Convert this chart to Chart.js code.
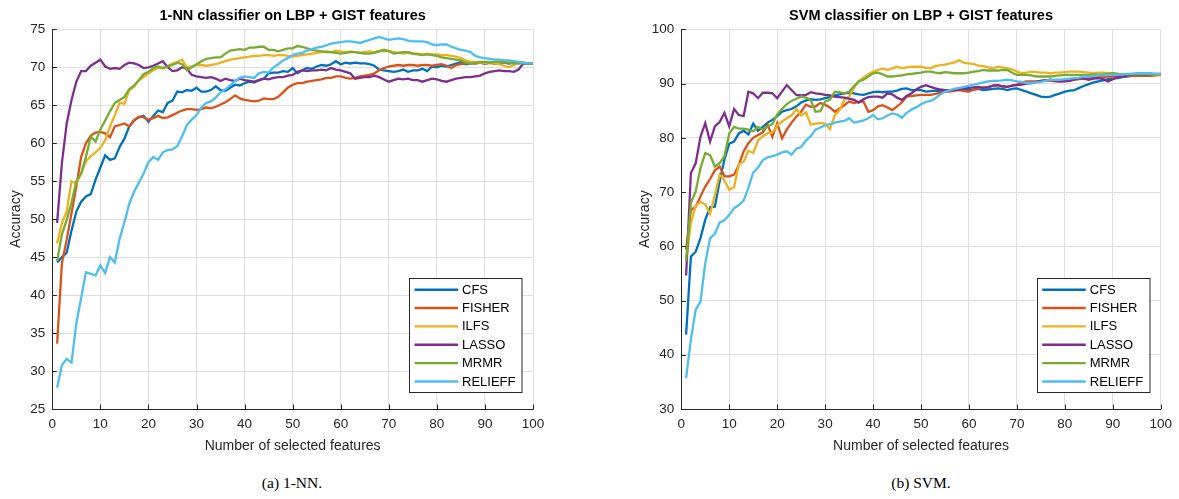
<!DOCTYPE html>
<html>
<head>
<meta charset="utf-8">
<script src="https://cdn.jsdelivr.net/npm/chart.js@4.4.1/dist/chart.umd.min.js"></script>
<style>
body{margin:0;background:#fff;overflow:hidden;width:1179px;height:499px;position:relative;}
.panel{position:absolute;top:0;}
.caption{position:absolute;top:474px;font-family:"Liberation Serif","DejaVu Serif",serif;font-size:15.5px;color:#000;transform:translateX(-50%);white-space:nowrap;}
</style>
</head>
<body>
<canvas id="nnChart" class="panel" width="590" height="470" style="left:0"></canvas>
<canvas id="svmChart" class="panel" width="550" height="470" style="left:629px"></canvas>
<div class="caption" style="left:292px">(a) 1-NN.</div>
<div class="caption" style="left:921px">(b) SVM.</div>
<script>
// feature counts on the x axis
var FEATURES = Array.from({length: 100}, function(_, i){ return i + 1; });
var METHODS = ['CFS', 'FISHER', 'ILFS', 'LASSO', 'MRMR', 'RELIEFF'];
var COLORS = ['#0072BD', '#D95319', '#EDB120', '#7E2F8E', '#77AC30', '#4DBEEE'];

// 1-NN accuracy
var NN_CFS = [44.3,45.0,45.6,48.5,51.0,52.3,53.0,53.3,55.2,56.8,58.4,57.8,58.0,59.5,60.6,62.2,63.0,63.4,63.6,62.8,
  63.6,64.3,64.1,65.3,65.6,66.8,66.7,67.0,66.9,67.3,66.8,66.8,67.0,67.5,67.0,66.9,67.3,67.7,67.6,67.9,
  68.1,68.0,68.3,68.5,69.2,69.3,69.3,69.5,69.4,69.9,69.2,69.6,69.9,69.8,70.1,70.3,70.2,70.4,70.8,70.4,
  70.6,70.5,70.6,70.5,70.5,70.4,70.2,69.7,69.6,69.5,69.4,69.5,69.7,69.4,69.6,69.6,69.8,69.5,70.1,70.0,
  70.2,70.1,70.3,70.5,70.7,70.4,70.5,70.5,70.6,70.5,70.6,70.5,70.6,70.6,70.5,70.6,70.6,70.5,70.5,70.5];
var NN_FISHER = [33.6,44.2,47.3,50.8,54.3,58.2,60.0,61.0,61.4,61.5,61.3,60.8,62.2,62.4,62.6,62.2,63.0,63.5,63.4,63.1,
  63.3,63.6,63.3,63.4,63.7,64.0,64.3,64.5,64.5,64.4,64.5,64.7,64.6,64.8,65.1,65.4,65.8,66.3,65.9,65.7,
  65.6,65.5,65.6,65.9,65.8,65.8,66.1,66.7,67.3,67.7,67.9,67.9,68.1,68.2,68.3,68.4,68.6,68.6,68.8,68.8,
  68.6,68.5,68.6,68.8,68.9,69.0,69.2,69.6,69.9,70.1,70.2,70.3,70.2,70.3,70.3,70.2,70.3,70.3,70.2,70.3,
  70.4,70.2,69.9,70.3,70.4,70.5,70.6,70.5,70.6,70.5,70.6,70.5,70.6,70.7,70.6,70.7,70.6,70.6,70.5,70.5];
var NN_ILFS = [46.8,49.5,51.0,55.0,54.7,56.0,57.6,58.3,58.8,59.4,60.4,62.2,63.7,65.3,65.2,67.0,67.4,68.3,68.7,69.2,
  69.6,69.9,69.9,70.2,70.5,70.7,71.0,70.0,70.1,70.3,70.3,70.2,70.3,70.4,70.6,70.8,71.0,71.1,71.2,71.3,
  71.4,71.5,71.5,71.6,71.6,71.5,71.6,71.6,71.5,71.4,71.5,71.6,71.7,71.8,71.9,72.0,72.1,72.0,72.2,72.1,
  72.0,72.1,72.0,71.9,72.0,72.1,72.0,72.2,72.1,72.2,72.0,71.9,71.8,71.9,71.8,71.8,71.7,71.8,71.7,71.7,
  71.6,71.6,71.5,71.4,71.2,70.9,70.7,70.7,70.6,70.6,70.5,70.5,70.4,70.2,70.0,70.3,70.5,70.6,70.5,70.5];
var NN_LASSO = [49.5,57.4,62.6,65.7,68.1,69.5,69.5,70.2,70.6,71.0,70.1,69.8,69.9,69.8,70.3,70.6,70.5,70.3,69.9,70.0,
  70.2,70.5,70.8,70.0,69.5,69.6,70.0,69.8,69.0,68.8,68.7,68.6,68.7,68.5,68.2,68.5,68.3,68.2,68.5,68.3,
  68.2,68.1,68.3,68.5,68.4,68.6,68.7,68.7,68.9,69.0,69.4,69.6,69.5,69.6,69.6,69.7,69.6,69.9,69.7,69.6,
  69.4,69.2,68.5,68.6,68.7,68.7,68.9,68.7,68.4,68.1,68.3,68.5,68.4,68.5,68.3,68.3,68.1,68.3,68.5,68.4,
  68.2,68.1,68.3,68.5,68.6,68.7,68.7,68.8,68.9,69.2,69.4,69.5,69.6,69.5,69.5,69.4,69.7,70.5,70.5,70.5];
var NN_MRMR = [44.5,48.0,49.9,52.2,55.0,56.0,58.2,60.9,60.2,61.8,63.0,64.2,65.3,65.7,66.1,67.1,67.6,68.3,69.1,69.4,
  69.9,70.1,69.9,70.1,70.3,70.6,70.4,69.6,70.0,70.4,70.8,71.1,71.2,71.3,71.3,71.8,72.2,72.3,72.4,72.3,
  72.6,72.6,72.7,72.7,72.3,72.3,72.1,72.3,72.5,72.5,72.8,72.7,72.5,72.3,72.2,72.1,72.0,72.0,71.9,71.8,
  71.9,72.0,72.0,71.9,71.8,71.8,71.9,72.1,72.3,72.1,71.8,71.9,72.0,72.0,71.8,71.7,71.6,71.7,71.6,71.5,
  71.3,71.2,71.1,71.0,70.9,70.6,70.5,70.6,70.7,70.7,70.6,70.7,70.7,70.6,70.6,70.5,70.5,70.5,70.5,70.5];
var NN_RELIEFF = [27.8,30.8,31.6,31.1,36.3,39.6,43.0,42.8,42.6,43.9,42.9,45.0,44.3,47.4,49.6,52.0,53.6,54.8,56.0,57.5,
  58.2,57.8,58.8,59.1,59.2,59.6,60.9,62.4,63.1,63.7,64.7,65.3,65.5,66.0,66.7,67.1,67.6,68.2,68.6,68.8,
  68.7,68.6,69.2,69.4,69.3,70.0,70.4,70.9,71.2,71.6,71.8,71.9,72.2,72.4,72.6,72.7,72.9,73.1,73.2,73.3,
  73.4,73.4,73.3,73.2,73.4,73.6,73.8,74.0,73.8,73.6,73.7,73.8,73.7,73.5,73.4,73.4,73.4,73.3,73.0,72.9,
  73.0,73.0,72.7,72.5,72.3,72.2,72.0,71.5,71.3,71.2,71.1,71.0,71.0,70.9,70.9,70.8,70.7,70.6,70.5,70.5];

// SVM accuracy
var SVM_CFS = [43.7,58.1,59.0,61.5,64.9,67.2,67.3,72.0,76.0,78.9,79.3,80.8,81.3,80.6,82.6,81.3,82.0,82.8,83.3,84.0,
  84.8,85.1,85.3,85.8,86.5,86.9,87.1,87.0,87.1,87.3,87.5,87.8,88.0,88.2,88.3,88.2,88.0,87.9,88.2,88.4,
  88.5,88.4,88.5,88.5,88.7,89.0,89.1,88.8,88.8,88.8,88.5,88.6,88.7,88.6,88.5,88.7,88.9,89.1,88.9,88.8,
  88.9,89.0,88.8,88.9,89.0,89.1,89.0,88.8,89.0,89.1,88.8,88.5,88.2,87.9,87.6,87.5,87.6,87.9,88.2,88.5,
  88.7,88.8,89.2,89.6,89.9,90.2,90.4,90.6,90.8,90.9,91.0,91.2,91.3,91.4,91.5,91.6,91.6,91.7,91.7,91.7];
var SVM_FISHER = [59.4,66.7,67.3,69.2,71.0,72.4,74.0,74.7,72.9,72.9,73.2,75.0,77.5,79.0,80.0,80.5,81.0,82.4,80.2,82.7,
  79.9,81.5,82.8,83.9,84.8,86.1,85.7,85.8,86.4,86.1,85.6,84.8,85.4,86.0,86.7,86.4,86.6,86.7,84.8,85.1,
  85.8,86.0,85.6,85.1,85.8,86.5,87.6,87.7,87.8,87.9,87.9,87.9,88.1,88.3,88.5,88.5,88.7,88.8,88.6,88.5,
  88.9,89.1,89.3,89.4,89.6,89.7,89.5,89.4,89.6,89.8,90.2,90.4,90.4,90.4,90.5,90.6,90.5,90.4,90.4,90.5,
  90.5,90.7,90.8,90.9,91.0,91.1,91.2,91.2,91.3,91.3,91.3,91.3,91.4,91.4,91.4,91.4,91.4,91.4,91.5,91.6];
var SVM_ILFS = [57.2,64.3,67.5,68.2,67.7,66.0,69.4,73.2,72.1,70.4,70.9,75.1,75.6,77.6,77.2,79.5,80.3,80.8,81.0,82.3,
  83.0,83.6,84.1,85.3,84.1,84.7,82.4,82.6,82.7,82.6,81.6,84.1,85.1,87.0,87.6,89.2,90.4,91.1,91.7,92.2,
  92.5,92.8,92.5,92.8,93.1,92.8,93.0,93.1,93.1,93.1,92.9,92.8,93.2,93.4,93.5,93.7,93.9,94.3,93.8,93.7,
  93.6,93.3,93.2,93.0,92.8,93.1,93.0,92.8,92.6,92.2,91.9,92.0,92.2,92.1,92.0,92.0,91.9,92.0,92.0,92.1,
  92.2,92.2,92.2,92.1,92.0,91.9,92.0,92.0,91.9,91.9,91.8,91.7,91.7,91.8,91.8,91.7,91.7,91.7,91.7,91.7];
var SVM_LASSO = [54.6,73.5,75.3,80.2,82.7,79.3,82.1,82.9,84.6,82.1,85.3,84.2,84.0,88.5,88.2,87.3,88.3,88.3,88.2,87.3,
  88.5,89.7,88.8,87.9,87.8,87.9,88.4,88.2,88.1,87.9,87.8,87.6,87.5,87.4,87.2,87.0,86.5,87.1,87.5,87.6,
  87.6,87.4,88.2,88.0,87.4,87.0,87.7,88.2,88.9,89.4,89.7,89.4,89.1,88.9,88.8,88.8,88.8,88.9,89.1,89.2,
  89.3,89.4,89.2,89.3,89.6,89.7,89.5,89.4,89.6,89.7,89.8,90.0,90.1,90.3,90.5,90.6,90.7,90.5,90.4,90.4,
  90.5,90.8,91.0,90.9,90.7,90.9,91.0,90.8,90.4,90.8,91.2,91.3,91.5,91.6,91.6,91.6,91.6,91.7,91.8,91.8];
var SVM_MRMR = [57.2,68.0,70.1,74.4,77.2,76.8,74.7,75.3,76.6,80.8,82.0,81.7,81.7,81.5,81.2,82.0,81.5,82.1,82.5,84.3,
  85.3,86.2,86.8,87.2,87.6,87.4,86.9,84.8,84.9,86.7,87.0,88.5,88.4,88.2,88.5,89.5,90.4,90.7,91.3,91.9,
  92.0,91.7,91.3,91.3,91.4,91.5,91.7,91.8,91.9,92.0,92.2,92.2,92.0,91.9,92.1,92.0,91.9,91.9,91.9,92.0,
  92.2,92.3,92.5,92.4,92.4,92.4,92.5,92.5,92.0,91.6,91.6,91.6,91.5,91.3,91.3,91.3,91.3,91.4,91.5,91.6,
  91.6,91.6,91.6,91.6,91.6,91.7,91.6,91.7,91.8,91.9,91.8,91.7,91.7,91.7,91.7,91.7,91.7,91.7,91.7,91.7];
var SVM_RELIEFF = [35.7,42.8,48.3,49.8,56.9,61.5,62.3,64.4,64.8,65.8,67.0,67.6,68.4,70.8,73.6,74.5,75.9,76.4,76.6,76.9,
  77.3,77.5,76.9,78.0,78.3,79.5,80.3,81.5,81.9,82.3,82.5,82.8,83.0,83.1,83.6,82.8,83.0,83.2,83.6,84.2,
  83.4,83.6,84.1,84.5,84.3,83.7,84.6,85.2,85.6,86.2,86.6,86.8,87.3,88.0,88.5,88.8,89.0,89.2,89.4,89.6,
  89.8,90.0,90.2,90.4,90.5,90.5,90.6,90.7,90.6,90.4,90.3,90.1,90.1,90.2,90.3,90.5,90.7,90.7,90.7,90.8,
  90.9,91.0,91.1,91.3,91.3,91.4,91.5,91.5,91.6,91.6,91.7,91.7,91.8,91.8,91.9,91.9,91.9,91.9,91.8,91.8];

var NN_SERIES = [NN_CFS, NN_FISHER, NN_ILFS, NN_LASSO, NN_MRMR, NN_RELIEFF];
var SVM_SERIES = [SVM_CFS, SVM_FISHER, SVM_ILFS, SVM_LASSO, SVM_MRMR, SVM_RELIEFF];

var AXIS_COLOR = '#262626';
var GRID_COLOR = '#dfdfdf';
var FONT = '"Liberation Sans", Arial, Helvetica, sans-serif';

// legend box drawn inside the lower right corner of the plot
var insideLegend = {
    id: 'insideLegend',
    afterDraw: function(chart){
        var ctx = chart.ctx, area = chart.chartArea;
        var w = 112.5, h = 114;
        var x0 = area.right - 11.5 - w, y0 = area.bottom - 17 - h;
        ctx.save();
        ctx.fillStyle = '#fff';
        ctx.fillRect(x0, y0, w, h);
        ctx.strokeStyle = AXIS_COLOR;
        ctx.lineWidth = 1;
        ctx.strokeRect(Math.round(x0) + 0.5, Math.round(y0) + 0.5, w, h);
        ctx.font = '13px ' + FONT;
        ctx.textBaseline = 'middle';
        chart.data.datasets.forEach(function(ds, i){
            var y = y0 + 11.7 + i * 18.35;
            ctx.strokeStyle = ds.borderColor;
            ctx.lineWidth = 2.4;
            ctx.beginPath();
            ctx.moveTo(x0 + 5.5, y);
            ctx.lineTo(x0 + 49, y);
            ctx.stroke();
            ctx.fillStyle = '#000';
            ctx.fillText(ds.label, x0 + 53, y + 0.5);
        });
        ctx.restore();
    }
};

// small inward tick marks like the original axes
var innerTicks = {
    id: 'innerTicks',
    afterDatasetsDraw: function(chart){
        var ctx = chart.ctx, area = chart.chartArea;
        var xs = chart.scales.x, ys = chart.scales.y;
        ctx.save();
        ctx.strokeStyle = AXIS_COLOR;
        ctx.lineWidth = 1;
        ctx.beginPath();
        xs.ticks.forEach(function(t){
            var px = Math.round(xs.getPixelForValue(t.value)) + 0.5;
            ctx.moveTo(px, area.bottom);
            ctx.lineTo(px, area.bottom - 4.5);
        });
        ys.ticks.forEach(function(t){
            var py = Math.round(ys.getPixelForValue(t.value)) + 0.5;
            ctx.moveTo(area.left, py);
            ctx.lineTo(area.left + 4.5, py);
        });
        ctx.stroke();
        ctx.restore();
    }
};

function makeChart(canvasId, titleText, series, yMin, yMax, yStep, rightPad){
    var datasets = series.map(function(vals, i){
        return {
            label: METHODS[i],
            data: vals.map(function(v, j){ return {x: FEATURES[j], y: v}; }),
            borderColor: COLORS[i],
            backgroundColor: COLORS[i],
            borderWidth: 2.3,
            pointRadius: 0,
            tension: 0,
            fill: false,
            order: series.length - i
        };
    });

    return new Chart(document.getElementById(canvasId), {
        type: 'line',
        data: {datasets: datasets},
        options: {
            responsive: false,
            animation: false,
            devicePixelRatio: 1,
            layout: {padding: {left: 0, right: rightPad, top: 0, bottom: 0}},
            plugins: {
                legend: {display: false},
                tooltip: {enabled: false},
                title: {
                    display: true,
                    text: titleText,
                    fullSize: false,
                    color: '#000',
                    font: {family: FONT, size: 14.5, weight: 'bold', lineHeight: 1.2},
                    padding: {top: 7.2, bottom: 4.7}
                }
            },
            scales: {
                x: {
                    type: 'linear',
                    min: 0,
                    max: 100,
                    afterFit: function(scale){ scale.height = 61; },
                    ticks: {stepSize: 10, color: AXIS_COLOR, padding: 7, font: {family: FONT, size: 13.5}},
                    grid: {color: GRID_COLOR, drawTicks: false},
                    border: {display: true, color: AXIS_COLOR, width: 1},
                    title: {
                        display: true,
                        text: 'Number of selected features',
                        color: AXIS_COLOR,
                        font: {family: FONT, size: 14, lineHeight: 1.2},
                        padding: {top: 0, bottom: 15.6}
                    }
                },
                y: {
                    min: yMin,
                    max: yMax,
                    afterFit: function(scale){ scale.width = 52.3; },
                    ticks: {stepSize: yStep, color: AXIS_COLOR, padding: 7, font: {family: FONT, size: 13.5}},
                    grid: {color: GRID_COLOR, drawTicks: false},
                    border: {display: true, color: AXIS_COLOR, width: 1},
                    title: {
                        display: true,
                        text: 'Accuracy',
                        color: AXIS_COLOR,
                        font: {family: FONT, size: 14, lineHeight: 1.2},
                        padding: {top: 7.6, bottom: 0}
                    }
                }
            }
        },
        plugins: [innerTicks, insideLegend]
    });
}

makeChart('nnChart', '1-NN classifier on LBP + GIST features', NN_SERIES, 25, 75, 5, 57);
makeChart('svmChart', 'SVM classifier on LBP + GIST features', SVM_SERIES, 30, 100, 10, 17.3);
</script>
</body>
</html>
